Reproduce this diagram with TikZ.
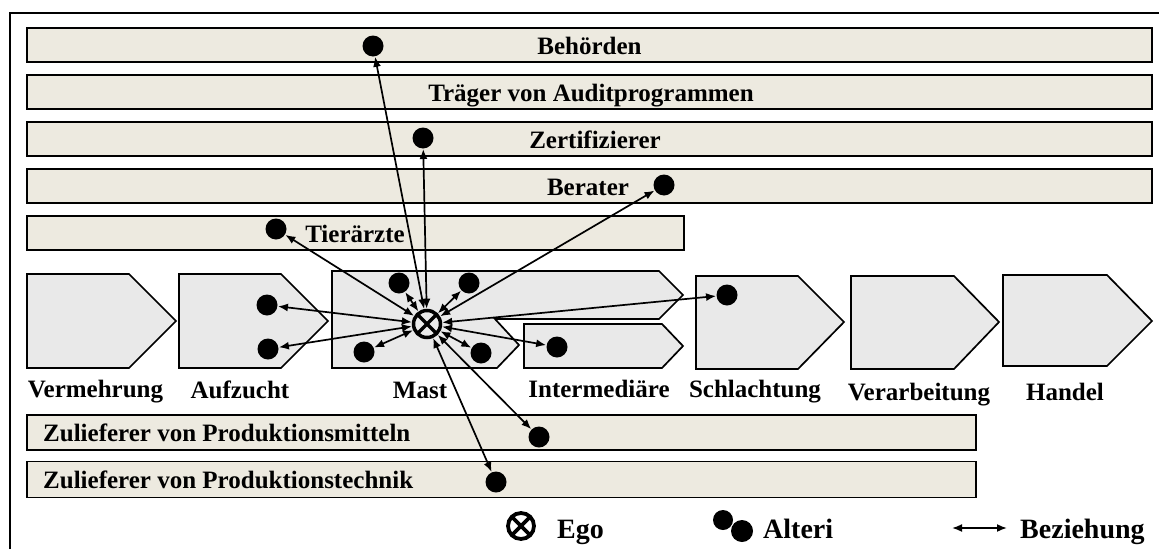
\documentclass[tikz,border=0pt]{standalone}
\usepackage{fontspec}
\setmainfont{Liberation Serif}
\usetikzlibrary{arrows.meta}
\definecolor{barfill}{RGB}{237,234,224}
\definecolor{chevfill}{RGB}{233,233,233}
\begin{document}
\begin{tikzpicture}[x=1pt,y=-1pt,
  bar/.style={draw=black, line width=1.8pt, fill=barfill, inner sep=0pt},
  chev/.style={draw=black, line width=1.7pt, fill=chevfill, line join=miter},
  lbl/.style={font=\fontsize{25}{30}\selectfont\bfseries, inner sep=0pt},
  leg/.style={font=\fontsize{28}{32}\selectfont\bfseries, inner sep=0pt, anchor=base west},
  alter/.style={circle, fill=black, inner sep=0pt, minimum size=21pt, outer sep=0.5pt},
  egonode/.style={circle, draw=black, line width=3.5pt, fill=chevfill, inner sep=0pt, minimum size=27pt, outer sep=1.75pt},
  rel/.style={{Latex[length=10pt,width=8pt]}-{Latex[length=10pt,width=8pt]}, line width=1.7pt}]
\useasboundingbox (0,0) rectangle (1159,549);
\fill[white] (0,0) rectangle (1159,549);
% frame
\draw[line width=1.5pt] (10,549) -- (10,13) -- (1159,13);

% top bars
\node[bar, minimum width=1125pt, minimum height=34pt] (behoerden) at (589.5,45) {};
\node[bar, minimum width=1125pt, minimum height=34pt] (traeger) at (589.5,92) {};
\node[bar, minimum width=1125pt, minimum height=34pt] (zert) at (589.5,139) {};
\node[bar, minimum width=1125pt, minimum height=34pt] (berater) at (589.5,186) {};
\node[bar, minimum width=657pt, minimum height=34pt] (tieraerzte) at (355.5,233) {};
\node[lbl, anchor=base] (tBeh) at (589.5,54) {Behörden};
\node[lbl, anchor=base] (tTra) at (591,101) {Träger von Auditprogrammen};
\node[lbl, anchor=base] (tZer) at (595,148) {Zertifizierer};
\node[lbl, anchor=base] (tBer) at (588,195) {Berater};
\node[lbl, anchor=base] (tTie) at (355,242) {Tierärzte};

% bottom bars
\node[bar, minimum width=949pt, minimum height=35pt] (mittel) at (501.5,432.5) {};
\node[bar, minimum width=949pt, minimum height=36pt] (technik) at (501.5,479.5) {};
\node[lbl, anchor=base west] (tMit) at (43,441.5) {Zulieferer von Produktionsmitteln};
\node[lbl, anchor=base west] (tTec) at (43,488.5) {Zulieferer von Produktionstechnik};

% chevrons
\draw[chev] (27,274) -- (129,274) -- (176,321) -- (129,368) -- (27,368) -- cycle;
\draw[chev] (179,274) -- (281,274) -- (328,321) -- (281,368) -- (179,368) -- cycle;
\draw[chev] (332,271) -- (659,271) -- (683,295) -- (659,319) -- (495,319) -- (519,345) -- (497,368) -- (332,368) -- cycle;
\draw[chev] (524,324) -- (662,324) -- (683,346) -- (662,368) -- (524,368) -- cycle;
\draw[chev] (696,276) -- (798,276) -- (844,322) -- (798,369) -- (696,369) -- cycle;
\draw[chev] (851,276) -- (954,276) -- (999,322) -- (954,369) -- (851,369) -- cycle;
\draw[chev] (1003,275) -- (1107,275) -- (1152,321) -- (1107,366) -- (1003,366) -- cycle;

\node[lbl, anchor=base] (lVer) at (95.5,397) {Vermehrung};
\node[lbl, anchor=base] (lAuf) at (240,398) {Aufzucht};
\node[lbl, anchor=base] (lMas) at (420,398) {Mast};
\node[lbl, anchor=base] (lInt) at (599,397) {Intermediäre};
\node[lbl, anchor=base] (lSch) at (755,397) {Schlachtung};
\node[lbl, anchor=base] (lVea) at (919,400) {Verarbeitung};
\node[lbl, anchor=base] (lHan) at (1065,400) {Handel};

% ego
\node[egonode] (ego) at (427,324) {};
\draw[line width=3.5pt] ([shift={(45:13.5pt)}]ego.center) -- ([shift={(225:13.5pt)}]ego.center);
\draw[line width=3.5pt] ([shift={(135:13.5pt)}]ego.center) -- ([shift={(315:13.5pt)}]ego.center);

% alteri
\node[alter] (aBeh) at (373,46) {};
\node[alter] (aZer) at (423,138) {};
\node[alter] (aBer) at (664,185) {};
\node[alter] (aTie) at (276,229) {};
\node[alter] (aAuf1) at (267,305) {};
\node[alter] (aAuf2) at (268,349) {};
\node[alter] (aM1) at (399,283) {};
\node[alter] (aM2) at (469,283) {};
\node[alter] (aM3) at (364,352) {};
\node[alter] (aM4) at (481,353) {};
\node[alter] (aSch) at (727,295) {};
\node[alter] (aInt) at (557,347) {};
\node[alter] (aMit) at (539,437) {};
\node[alter] (aTec) at (496,482) {};

\foreach \a in {aBeh,aZer,aBer,aTie,aAuf1,aAuf2,aM1,aM2,aM3,aM4,aSch,aInt,aMit,aTec}
  \draw[rel] (ego) -- (\a);

% legend
\node[circle, draw=black, line width=3.8pt, inner sep=0pt, minimum size=26pt] (legEgo) at (521,526) {};
\draw[line width=3.8pt] ([shift={(45:13pt)}]legEgo.center) -- ([shift={(225:13pt)}]legEgo.center);
\draw[line width=3.8pt] ([shift={(135:13pt)}]legEgo.center) -- ([shift={(315:13pt)}]legEgo.center);
\node[leg] (tEgo) at (557,538) {Ego};
\node[circle, fill=black, inner sep=0pt, minimum size=20pt] (legA1) at (723,520) {};
\node[circle, fill=black, inner sep=0pt, minimum size=22pt] (legA2) at (742,531) {};
\node[leg] (tAlt) at (763,538) {Alteri};
\coordinate (legR1) at (952,528);
\coordinate (legR2) at (1007,528);
\draw[rel] (legR1) -- (legR2);
\node[leg] (tBez) at (1020,538) {Beziehung};
\end{tikzpicture}
\end{document}
